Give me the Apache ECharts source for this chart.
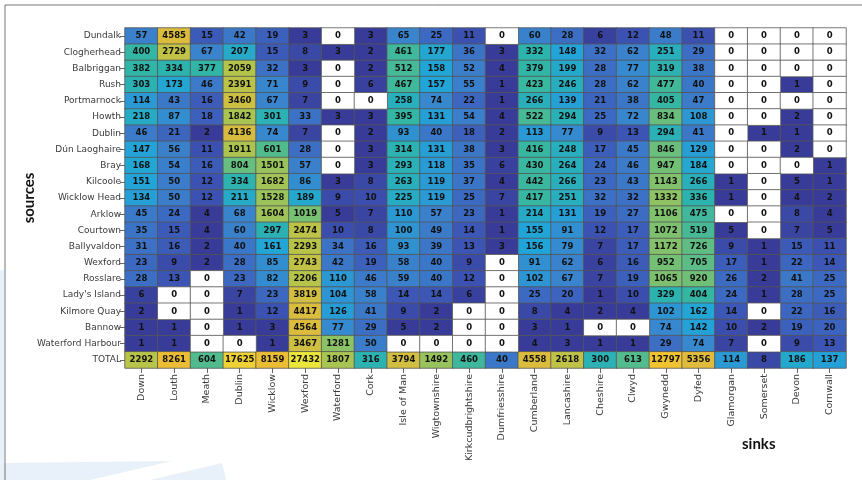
<!DOCTYPE html>
<html>
<head>
<meta charset="utf-8">
<script src="https://cdn.jsdelivr.net/npm/echarts@6/dist/echarts.min.js"></script>
<style>
  html, body { margin: 0; padding: 0; background: #fff; }
  #chart { width: 862px; height: 480px; }
</style>
</head>
<body>
<div id="chart"></div>
<script>
  // sinks along the bottom, sources down the side
  var sinks = ['Down', 'Louth', 'Meath', 'Dublin', 'Wicklow', 'Wexford', 'Waterford', 'Cork',
    'Isle of Man', 'Wigtownshire', 'Kirkcudbrightshire', 'Dumfriesshire', 'Cumberland',
    'Lancashire', 'Cheshire', 'Clwyd', 'Gwynedd', 'Dyfed', 'Glamorgan', 'Somerset', 'Devon', 'Cornwall'];

  var sources = ['Dundalk', 'Clogherhead', 'Balbriggan', 'Rush', 'Portmarnock', 'Howth', 'Dublin',
    'Dún Laoghaire', 'Bray', 'Kilcoole', 'Wicklow Head', 'Arklow', 'Courtown', 'Ballyvaldon',
    'Wexford', 'Rosslare', "Lady's Island", 'Kilmore Quay', 'Bannow', 'Waterford Harbour', 'TOTAL'];

  var flows = [
    [57, 4585, 15, 42, 19, 3, 0, 3, 65, 25, 11, 0, 60, 28, 6, 12, 48, 11, 0, 0, 0, 0],
    [400, 2729, 67, 207, 15, 8, 3, 2, 461, 177, 36, 3, 332, 148, 32, 62, 251, 29, 0, 0, 0, 0],
    [382, 334, 377, 2059, 32, 3, 0, 2, 512, 158, 52, 4, 379, 199, 28, 77, 319, 38, 0, 0, 0, 0],
    [303, 173, 46, 2391, 71, 9, 0, 6, 467, 157, 55, 1, 423, 246, 28, 62, 477, 40, 0, 0, 1, 0],
    [114, 43, 16, 3460, 67, 7, 0, 0, 258, 74, 22, 1, 266, 139, 21, 38, 405, 47, 0, 0, 0, 0],
    [218, 87, 18, 1842, 301, 33, 3, 3, 395, 131, 54, 4, 522, 294, 25, 72, 834, 108, 0, 0, 2, 0],
    [46, 21, 2, 4136, 74, 7, 0, 2, 93, 40, 18, 2, 113, 77, 9, 13, 294, 41, 0, 1, 1, 0],
    [147, 56, 11, 1911, 601, 28, 0, 3, 314, 131, 38, 3, 416, 248, 17, 45, 846, 129, 0, 0, 2, 0],
    [168, 54, 16, 804, 1501, 57, 0, 3, 293, 118, 35, 6, 430, 264, 24, 46, 947, 184, 0, 0, 0, 1],
    [151, 50, 12, 334, 1682, 86, 3, 8, 263, 119, 37, 4, 442, 266, 23, 43, 1143, 266, 1, 0, 5, 1],
    [134, 50, 12, 211, 1528, 189, 9, 10, 225, 119, 25, 7, 417, 251, 32, 32, 1332, 336, 1, 0, 4, 2],
    [45, 24, 4, 68, 1604, 1019, 5, 7, 110, 57, 23, 1, 214, 131, 19, 27, 1106, 475, 0, 0, 8, 4],
    [35, 15, 4, 60, 297, 2474, 10, 8, 100, 49, 14, 1, 155, 91, 12, 17, 1072, 519, 5, 0, 7, 5],
    [31, 16, 2, 40, 161, 2293, 34, 16, 93, 39, 13, 3, 156, 79, 7, 17, 1172, 726, 9, 1, 15, 11],
    [23, 9, 2, 28, 85, 2743, 42, 19, 58, 40, 9, 0, 91, 62, 6, 16, 952, 705, 17, 1, 22, 14],
    [28, 13, 0, 23, 82, 2206, 110, 46, 59, 40, 12, 0, 102, 67, 7, 19, 1065, 920, 26, 2, 41, 25],
    [6, 0, 0, 7, 23, 3819, 104, 58, 14, 14, 6, 0, 25, 20, 1, 10, 329, 404, 24, 1, 28, 25],
    [2, 0, 0, 1, 12, 4417, 126, 41, 9, 2, 0, 0, 8, 4, 2, 4, 102, 162, 14, 0, 22, 16],
    [1, 1, 0, 1, 3, 4564, 77, 29, 5, 2, 0, 0, 3, 1, 0, 0, 74, 142, 10, 2, 19, 20],
    [1, 1, 0, 0, 1, 3467, 1281, 50, 0, 0, 0, 0, 4, 3, 1, 1, 29, 74, 7, 0, 9, 13]
  ];

  var totals = [2292, 8261, 604, 17625, 8159, 27432, 1807, 316, 3794, 1492, 460, 40,
    4558, 2618, 300, 613, 12797, 5356, 114, 8, 186, 137];

  // log colour scale
  var logMin = Math.log10(5), logMax = Math.log10(27432);
  function pos(v) {
    var p = (Math.log10(v) - logMin) / (logMax - logMin);
    return Math.max(0, Math.min(1, p));
  }

  // non-zero cells get the colour map, zero cells stay white
  var cells = [], zeros = [];
  flows.concat([totals]).forEach(function (row, r) {
    row.forEach(function (v, c) {
      if (v > 0) cells.push([c, r, v, pos(v)]);
      else zeros.push([c, r, v]);
    });
  });

  var myChart = echarts.init(document.getElementById('chart'));

  var cellLabel = {
    show: true,
    formatter: function (p) { return p.value[2]; },
    fontFamily: 'DejaVu Sans',
    fontWeight: 'bold',
    fontSize: 8.5,
    color: '#111'
  };

  var option = {
    backgroundColor: '#fff',
    animation: false,
    grid: {
      left: 125,
      right: 16,
      top: 28,
      bottom: 112
    },
    xAxis: {
      type: 'category',
      data: sinks,
      axisLine: { show: false },
      axisTick: { show: true, alignWithLabel: true, length: 5, lineStyle: { color: '#666' } },
      axisLabel: {
        rotate: 90,
        margin: 6,
        fontFamily: 'DejaVu Sans',
        fontSize: 9.5,
        color: '#3a3a3a'
      },
      splitArea: { show: false }
    },
    yAxis: {
      type: 'category',
      data: sources,
      inverse: true,
      name: 'sources',
      nameLocation: 'middle',
      nameRotate: 90,
      nameGap: 88,
      nameMoveOverlap: false,
      nameTextStyle: { fontFamily: 'Lato', fontWeight: 'bold', fontSize: 15, color: '#111' },
      axisLine: { show: false },
      axisTick: { show: true, alignWithLabel: true, length: 5, lineStyle: { color: '#666' } },
      axisLabel: {
        margin: 4,
        fontFamily: 'DejaVu Sans',
        fontSize: 9,
        color: '#3a3a3a'
      },
      splitArea: { show: false }
    },
    visualMap: {
      type: 'continuous',
      show: false,
      seriesIndex: 0,
      dimension: 3,
      min: 0,
      max: 1,
      inRange: {
        color: ['#383c98', '#3c52b2', '#3c6ec4', '#3a84cd', '#21a5d8', '#2fb5a8',
          '#6cbf7a', '#b3c54a', '#dfbb3c', '#f1be30', '#ede63a']
      }
    },
    series: [
      {
        type: 'heatmap',
        data: cells,
        itemStyle: { borderColor: '#555', borderWidth: 0.8 },
        label: cellLabel,
        emphasis: { disabled: true }
      },
      {
        type: 'heatmap',
        data: zeros,
        itemStyle: { color: '#ffffff', borderColor: '#555', borderWidth: 0.8 },
        label: cellLabel,
        emphasis: { disabled: true }
      }
    ],
    graphic: [
      // slide frame and light background swooshes
      { type: 'polyline', z: -10, shape: { points: [[5, 480], [5, 5], [862, 5]] }, style: { stroke: '#777', lineWidth: 1, fill: null } },
      { type: 'polygon', z: -20, shape: { points: [[0, 463], [172, 461], [90, 480], [0, 480]] }, style: { fill: '#e8f0f9' } },
      { type: 'polygon', z: -20, shape: { points: [[150, 480], [222, 463], [226, 480]] }, style: { fill: '#e8f0f9' } },
      { type: 'rect', z: -20, shape: { x: 0, y: 270, width: 4, height: 210 }, style: { fill: '#e8f0f9' } },
      { type: 'text', left: 742, top: 437, style: { text: 'sinks', fontFamily: 'Lato', fontWeight: 'bold', fontSize: 15, fill: '#111' } }
    ]
  };

  myChart.setOption(option);
</script>
</body>
</html>
